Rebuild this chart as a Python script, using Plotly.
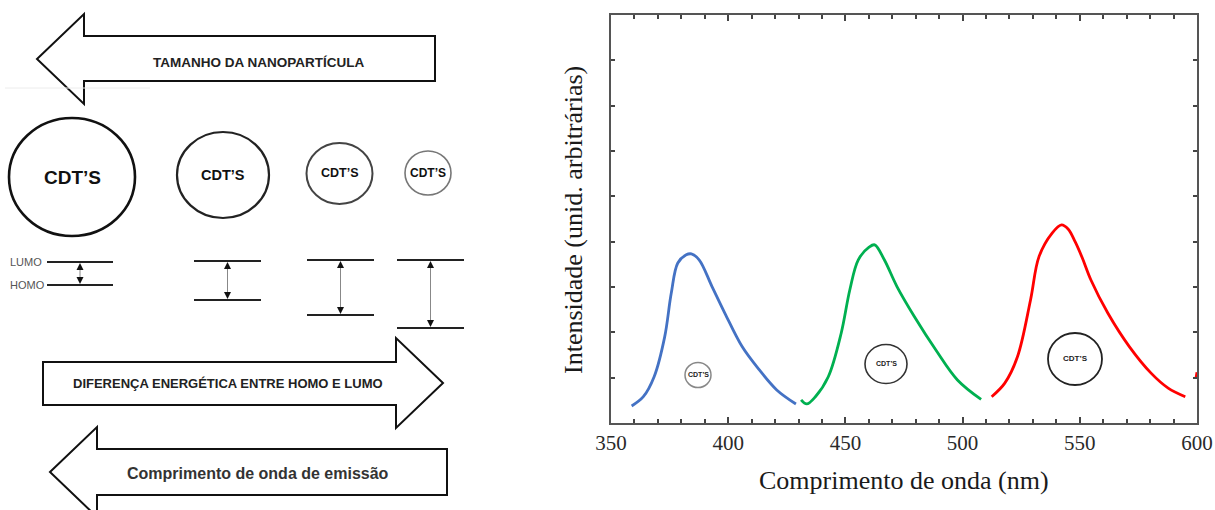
import plotly.graph_objects as go

# ---------------- data ----------------
blue_nm = [358.8, 363.8, 368.4, 372.9, 375.7, 378.5, 382.1, 384.3, 387.6, 393.1, 398.6, 406.0, 413.3, 420.7, 428.9]
blue_int = [0.375, 0.58, 1.02, 1.90, 2.86, 3.53, 3.71, 3.73, 3.60, 3.01, 2.42, 1.68, 1.17, 0.73, 0.42]

green_nm = [431.1, 433.5, 437.2, 442.7, 448.2, 451.9, 455.5, 460.1, 462.5, 466.6, 472.0, 479.4, 488.6, 497.8, 507.9]
green_int = [0.51, 0.42, 0.58, 1.02, 1.98, 2.94, 3.60, 3.88, 3.93, 3.60, 3.01, 2.35, 1.61, 0.95, 0.52]

red_nm = [512.4, 518.0, 523.4, 529.0, 532.6, 538.2, 542.2, 545.0, 548.0, 551.0, 554.7, 562.0, 571.2, 580.4, 587.7, 595.0]
red_int = [0.58, 0.88, 1.46, 2.72, 3.67, 4.19, 4.37, 4.28, 4.00, 3.65, 3.16, 2.42, 1.68, 1.10, 0.77, 0.58]

red_tail_nm = [599.6, 600.0]
red_tail_int = [1.00, 1.12]

x_ticks = [350, 400, 450, 500, 550, 600]

# ---------------- layout helpers (pixel -> paper) ----------------
W, H = 1215, 510
PL, PR, PT, PB = 611, 1197, 15, 423


def X(px):
    return (px - PL) / (PR - PL)


def Y(py):
    return (PB - py) / (PB - PT)


def path(points):
    return "M " + " L ".join(f"{X(a):.5f},{Y(b):.5f}" for a, b in points) + " Z"


fig = go.Figure()
for xs, ys, col in [(blue_nm, blue_int, "#4472C4"), (green_nm, green_int, "#00B050"),
                    (red_nm, red_int, "#FF0000"), (red_tail_nm, red_tail_int, "#FF0000")]:
    fig.add_trace(go.Scatter(x=xs, y=ys, mode="lines", line=dict(color=col, width=2.8, shape="spline"),
                             hoverinfo="skip"))

shapes = []
annots = []
BL = "#111111"

# ---- big arrows ----
shapes.append(dict(type="path", xref="paper", yref="paper", fillcolor="white", line=dict(color=BL, width=2),
                   path=path([(37, 59), (84, 14), (84, 36), (435, 36), (435, 81), (84, 81), (84, 104)])))
shapes.append(dict(type="path", xref="paper", yref="paper", fillcolor="white", line=dict(color=BL, width=2),
                   path=path([(43, 362), (396, 362), (396, 338), (443, 383), (396, 428), (396, 405), (43, 405)])))
shapes.append(dict(type="path", xref="paper", yref="paper", fillcolor="white", line=dict(color=BL, width=2),
                   path=path([(50, 472), (97, 427), (97, 449), (447, 449), (447, 495), (97, 495), (97, 517)])))
shapes.append(dict(type="line", xref="paper", yref="paper", x0=X(5), x1=X(150), y0=Y(88), y1=Y(88),
                   line=dict(color="#ececec", width=1)))


def txt(x, y, s, size, color="#222222", bold=True, family="Liberation Sans", xanchor="center"):
    annots.append(dict(x=X(x), y=Y(y), xref="paper", yref="paper", text=s, showarrow=False,
                       xanchor=xanchor, yanchor="middle",
                       font=dict(family=family, size=size, color=color, weight="bold" if bold else "normal")))


txt(259, 62, "TAMANHO DA NANOPARTÍCULA", 13.5)
txt(228, 383, "DIFERENÇA ENERGÉTICA ENTRE HOMO E LUMO", 13)
txt(258, 473, "Comprimento de onda de emissão", 16, color="#333333")

# ---- particle circles (left) ----
circles = [  # cx, cy, rx, ry, line width, line colour, font size
    (72, 177, 63, 59, 2.6, "#111111", 19),
    (223, 175, 46, 43, 2.2, "#222222", 14.5),
    (339.5, 173.5, 33, 30.5, 2.0, "#444444", 12.5),
    (428, 173, 23, 22, 1.6, "#777777", 12),
]
for cx, cy, rx, ry, lw, lc, fs in circles:
    shapes.append(dict(type="circle", xref="paper", yref="paper", x0=X(cx - rx), x1=X(cx + rx),
                       y0=Y(cy + ry), y1=Y(cy - ry), line=dict(color=lc, width=lw)))
    txt(cx, cy, "CDT’S", fs, color="#111111")

# ---- HOMO / LUMO levels ----
lev_x0 = [47, 194, 307, 397]
lev_x1 = [113, 261, 374, 464]
lumo_y = [262, 261, 260, 260]
homo_y = [285, 300, 315, 328]
for x0, x1, ly, hy in zip(lev_x0, lev_x1, lumo_y, homo_y):
    ax = (x0 + x1) / 2
    for yy in (ly, hy):
        shapes.append(dict(type="line", xref="paper", yref="paper", x0=X(x0), x1=X(x1), y0=Y(yy), y1=Y(yy),
                           line=dict(color="#222222", width=2)))
    shapes.append(dict(type="line", xref="paper", yref="paper", x0=X(ax), x1=X(ax), y0=Y(ly + 4), y1=Y(hy - 4),
                       line=dict(color="#888888", width=1)))
    shapes.append(dict(type="path", xref="paper", yref="paper", fillcolor="#111111", line=dict(width=0),
                       path=path([(ax, ly + 1), (ax - 3.5, ly + 8), (ax + 3.5, ly + 8)])))
    shapes.append(dict(type="path", xref="paper", yref="paper", fillcolor="#111111", line=dict(width=0),
                       path=path([(ax, hy - 1), (ax - 3.5, hy - 8), (ax + 3.5, hy - 8)])))
txt(8, 262, "LUMO", 11, color="#555555", bold=False, xanchor="left")
txt(8, 285, "HOMO", 11, color="#555555", bold=False, xanchor="left")

# ---- small circles in the chart ----
small = [(698, 375, 13, 12.5, "#888888", 1.5, 7), (886, 364, 21, 19.5, "#333333", 1.6, 7),
         (1075, 359, 27, 26, "#222222", 1.8, 8)]
for cx, cy, rx, ry, lc, lw, fs in small:
    shapes.append(dict(type="circle", xref="paper", yref="paper", x0=X(cx - rx), x1=X(cx + rx),
                       y0=Y(cy + ry), y1=Y(cy - ry), line=dict(color=lc, width=lw)))
    txt(cx, cy - 1, "CDT’S", fs, color="#222222")

# ---- axis titles ----
annots.append(dict(x=X(904), y=Y(480), xref="paper", yref="paper", text="Comprimento de onda (nm)",
                   showarrow=False, xanchor="center", yanchor="middle",
                   font=dict(family="Liberation Serif", size=26, color="#1a1a1a")))
annots.append(dict(x=X(573), y=Y(220), xref="paper", yref="paper", text="Intensidade (unid. arbitrárias)",
                   showarrow=False, xanchor="center", yanchor="middle", textangle=-90,
                   font=dict(family="Liberation Serif", size=26, color="#1a1a1a")))

fig.update_layout(
    width=W, height=H, margin=dict(l=PL, r=W - PR, t=PT, b=H - PB, autoexpand=False),
    paper_bgcolor="white", plot_bgcolor="white", showlegend=False,
    shapes=shapes, annotations=annots,
    xaxis=dict(range=[350, 600], tickvals=x_ticks, ticks="inside", ticklen=6, tickwidth=1.5, tickcolor="#444444",
               minor=dict(dtick=10, tick0=350, ticks="inside", ticklen=4, tickwidth=1.5, tickcolor="#444444"),
               showline=True, linecolor="#555555", linewidth=2, mirror="ticks", showgrid=False, zeroline=False,
               automargin=False,
               tickfont=dict(family="Liberation Serif", size=21, color="#2a2a2a"), ticklabelstandoff=0),
    yaxis=dict(range=[0, 9], dtick=1, ticks="inside", ticklen=4, tickwidth=1.5, tickcolor="#444444",
               showticklabels=False, showline=True, linecolor="#555555", linewidth=2, mirror="ticks",
               showgrid=False, zeroline=False, automargin=False),
)

fig.write_html("out.html")
